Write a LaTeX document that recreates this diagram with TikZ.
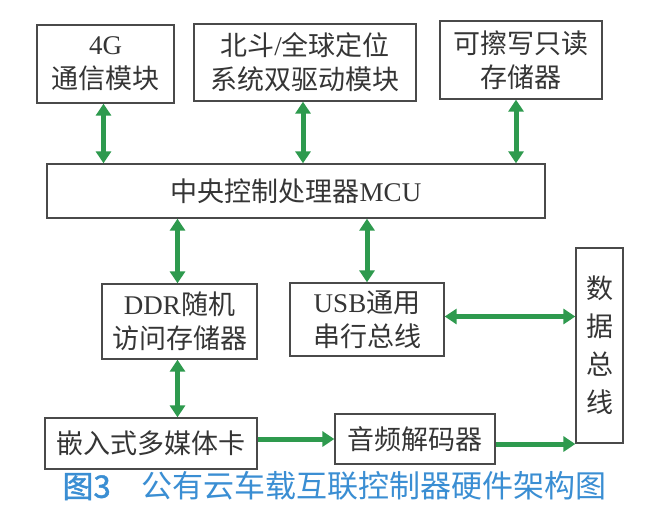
\documentclass[tikz,border=0pt]{standalone}
\usepackage{fontspec}
\setmainfont{Liberation Serif}
\newfontfamily\cjk{Noto Sans CJK SC}
\newfontfamily\cjkbold[FakeBold=1.5]{Noto Sans CJK SC}
\newfontfamily\latin{Liberation Serif}
\newcommand{\ltn}[1]{{\latin #1}}
\usetikzlibrary{positioning,arrows.meta}
\definecolor{arrowgreen}{HTML}{2E9A4E}
\definecolor{capblue}{HTML}{3A8ED3}
\definecolor{boxline}{HTML}{4A4A4A}
\definecolor{boxtext}{HTML}{353535}

\begin{document}
\begin{tikzpicture}[x=1pt,y=-1pt,
    box/.style={draw=boxline, line width=1.3pt, inner sep=0pt, align=center, text=boxtext, font=\cjk\fontsize{27}{34}\selectfont},
    biarrow/.style={draw=arrowgreen, line width=5pt, {Triangle[width=15pt,length=12pt]}-{Triangle[width=15pt,length=12pt]}},
    onearrow/.style={draw=arrowgreen, line width=5pt, -{Triangle[width=15pt,length=12pt]}}]
    \useasboundingbox[fill=white] (0,0) rectangle (647,522);

    % top row
    \node[box, minimum width=137pt, minimum height=78pt] (g4) at (105.5,64) {\ltn{4G}\\通信模块};
    \node[box, minimum width=222pt, minimum height=77pt] (bd) at (305,62.5) {北斗\ltn{/}全球定位\\系统双驱动模块};
    \node[box, minimum width=162pt, minimum height=78pt] (rom) at (521,60) {可擦写只读\\存储器};

    \node[box, minimum width=498pt, minimum height=54pt] (mcu) at (296,191) {中央控制处理器\ltn{MCU}};

    % lower part
    \node[box, minimum width=155pt, minimum height=75pt] (ddr) at (179.5,321.5) {\ltn{DDR}随机\\访问存储器};
    \node[box, minimum width=154pt, minimum height=73pt] (usb) at (367,319.5) {\ltn{USB}通用\\串行总线};
    \node[box, minimum width=47pt, minimum height=195pt, font=\cjk\fontsize{27}{38}\selectfont] (bus) at (599.5,345.5) {数\\据\\总\\线};
    \node[box, minimum width=212pt, minimum height=51pt] (emmc) at (151,443.5) {嵌入式多媒体卡};
    \node[box, minimum width=160pt, minimum height=50pt] (audio) at (415,439) {音频解码器};

    \draw[biarrow] ([xshift=-2pt]g4.south) -- ([xshift=-2pt]g4.south |- mcu.north);
    \draw[biarrow] ([xshift=-2pt]bd.south) -- ([xshift=-2pt]bd.south |- mcu.north);
    \draw[biarrow] ([xshift=-5pt]rom.south) -- ([xshift=-5pt]rom.south |- mcu.north);
    \draw[biarrow] ([xshift=-2pt]ddr.north |- mcu.south) -- ([xshift=-2pt]ddr.north);
    \draw[biarrow] (usb.north |- mcu.south) -- (usb.north);
    \draw[biarrow] ([xshift=-2pt]ddr.south) -- ([xshift=-2pt]ddr.south |- emmc.north);
    \draw[biarrow] ([yshift=3pt]usb.east) -- ([yshift=3pt]usb.east -| bus.west);
    \draw[onearrow] (emmc.east |- audio.west) -- (audio.west);
    \draw[onearrow] ([yshift=-5pt]audio.east) -- ([yshift=-5pt]audio.east -| bus.west);

    \node[anchor=west, text=capblue, font=\cjk\fontsize{31}{36}\selectfont] (caption) at (59,486) {{\cjkbold 图3}\hspace{31pt}公有云车载互联控制器硬件架构图};
\end{tikzpicture}
\end{document}
